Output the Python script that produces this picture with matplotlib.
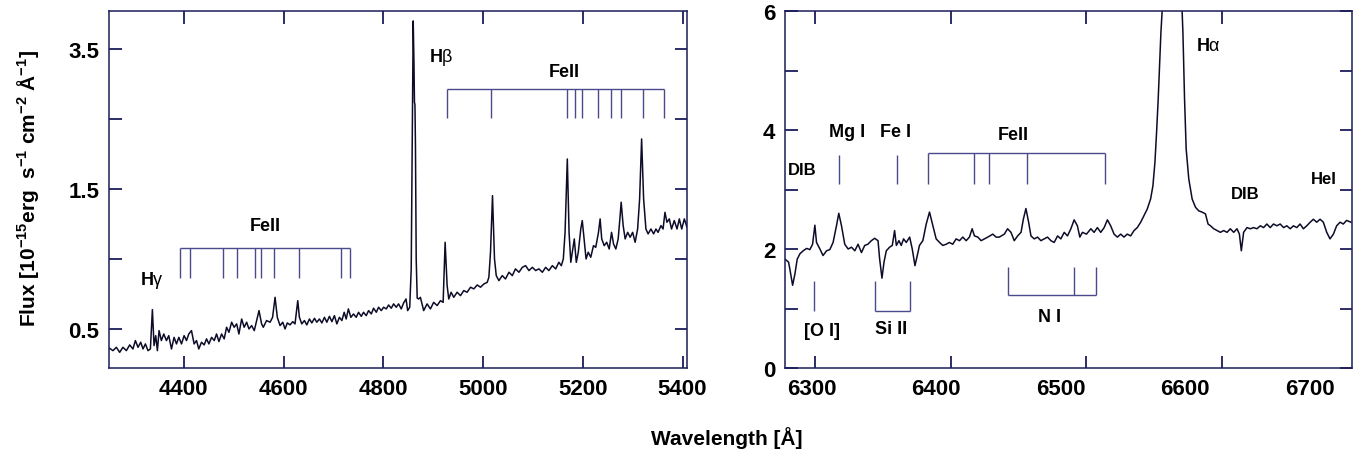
import matplotlib
matplotlib.use("Agg")
import matplotlib.pyplot as plt
import numpy as np

plt.rcParams['font.family'] = ['Liberation Sans', 'DejaVu Sans']
plt.rcParams['mathtext.fontset'] = 'custom'
plt.rcParams['mathtext.rm'] = 'Liberation Sans'
plt.rcParams['mathtext.bf'] = 'Liberation Sans:bold'
plt.rcParams['mathtext.it'] = 'Liberation Sans'

# ---------------- data: blue spectrum (left panel) ----------------
blue_wave = [4251, 4258, 4264.7, 4271.4, 4278, 4284.8, 4291.5, 4298, 4302.9, 4308.2, 4313.6, 4318.2,
             4323, 4328.2, 4333, 4337, 4340.3, 4343.7, 4347, 4350.4, 4355, 4359.8, 4365.2, 4369.8,
             4375.3, 4380.5, 4385.3, 4390, 4395.4, 4400.6, 4405.4, 4410, 4415.4, 4420.7, 4425.5,
             4430, 4435.5, 4440.8, 4445.6, 4450.3, 4455.7, 4461, 4465.7, 4470.4, 4475.8, 4481,
             4485.8, 4490.5, 4495.9, 4501, 4506, 4510.5, 4516, 4521, 4526, 4530.7, 4536, 4541.3,
             4546, 4550.8, 4556, 4559.4, 4566, 4573, 4578, 4583, 4587.5, 4593, 4598.4, 4603,
             4607.6, 4613, 4618.5, 4623, 4628.5, 4631.8, 4636.6, 4641.8, 4646.6, 4651.9, 4656.7,
             4662, 4666.7, 4672, 4676.8, 4682, 4686.8, 4692, 4696.9, 4702, 4706.9, 4712, 4717,
             4721.6, 4725.6, 4730, 4735, 4740.3, 4745.7, 4750.4, 4755.8, 4760.4, 4765.8, 4770.5,
             4775.9, 4780.5, 4786, 4790.5, 4796, 4800.6, 4806, 4810.6, 4816, 4820.7, 4826,
             4830.7, 4836, 4840.8, 4845.6, 4848.9, 4853, 4856, 4858, 4860, 4861.5, 4862.5,
             4863.5, 4864.5, 4866, 4868, 4871, 4874.4, 4881, 4887.8, 4894.5, 4901, 4908, 4914.6,
             4920, 4924, 4928, 4931.3, 4936, 4941.3, 4948, 4954.8, 4961.4, 4968, 4975, 4981.5,
             4988.3, 4995, 5001.6, 5008.4, 5011.7, 5015, 5019, 5023, 5026.5, 5031.8, 5038.6,
             5045, 5052, 5058.7, 5065, 5072, 5078.8, 5085.4, 5092, 5099, 5105.5, 5112, 5119,
             5125.6, 5132, 5139, 5145.7, 5152, 5157, 5161, 5164.5, 5169, 5172.5, 5176, 5179,
             5183, 5187, 5191, 5196, 5199, 5202.6, 5206.6, 5211, 5216, 5221.5, 5226, 5231.5,
             5234.8, 5238, 5243, 5248, 5253, 5257.7, 5261.7, 5266.3, 5271, 5274.4, 5277, 5281,
             5285, 5290, 5295, 5300, 5305, 5310, 5314, 5318, 5322, 5326.6, 5331, 5336.7, 5342,
             5346.7, 5351, 5356.8, 5361, 5364.8, 5368.8, 5373.5, 5378, 5383.5, 5389, 5393.6,
             5398.4, 5403.6, 5409]
blue_flux = [0.362, 0.345, 0.369, 0.333, 0.369, 0.345, 0.386, 0.357, 0.417, 0.369, 0.405, 0.357,
             0.393, 0.345, 0.357, 0.638, 0.381, 0.452, 0.345, 0.488, 0.417, 0.464, 0.417, 0.452,
             0.357, 0.440, 0.393, 0.440, 0.393, 0.452, 0.417, 0.464, 0.488, 0.393, 0.417,
             0.357, 0.405, 0.386, 0.429, 0.393, 0.440, 0.417, 0.464, 0.410, 0.464, 0.429,
             0.512, 0.476, 0.548, 0.512, 0.536, 0.464, 0.571, 0.512, 0.548, 0.500, 0.524, 0.488,
             0.560, 0.631, 0.536, 0.512, 0.560, 0.548, 0.583, 0.726, 0.583, 0.524, 0.548, 0.500,
             0.543, 0.529, 0.552, 0.536, 0.702, 0.583, 0.536, 0.560, 0.529, 0.571, 0.543,
             0.576, 0.548, 0.571, 0.543, 0.583, 0.548, 0.590, 0.552, 0.595, 0.536, 0.583, 0.560,
             0.619, 0.571, 0.643, 0.583, 0.607, 0.583, 0.619, 0.590, 0.619, 0.595, 0.631,
             0.607, 0.648, 0.619, 0.655, 0.631, 0.655, 0.643, 0.671, 0.648, 0.679, 0.655,
             0.679, 0.643, 0.686, 0.714, 0.631, 0.655, 0.929, 1.80, 2.70, 2.40, 2.12,
             2.10, 1.81, 1.00, 0.72, 0.714, 0.726, 0.631, 0.679, 0.643, 0.690, 0.667, 0.702,
             0.690, 1.119, 0.810, 0.714, 0.762, 0.726, 0.762, 0.738, 0.774, 0.762, 0.798, 0.786,
             0.814, 0.798, 0.821, 0.833, 0.869, 1.048, 1.452, 1.000, 0.881, 0.845, 0.881,
             0.857, 0.905, 0.881, 0.929, 0.905, 0.940, 0.952, 0.917, 0.940, 0.917, 0.929, 0.905,
             0.940, 0.917, 0.952, 0.929, 0.976, 0.952, 1.000, 1.190, 1.714, 1.190, 0.976, 1.048,
             1.143, 0.976, 1.048, 1.214, 1.274, 1.143, 1.000, 1.048, 1.012, 1.095, 1.083, 1.190,
             1.286, 1.143, 1.095, 1.119, 1.071, 1.190, 1.107, 1.071, 1.143, 1.286, 1.405, 1.238,
             1.143, 1.190, 1.155, 1.190, 1.119, 1.214, 1.429, 1.857, 1.429, 1.214, 1.179, 1.214, 1.179,
             1.214, 1.190, 1.238, 1.214, 1.333, 1.262, 1.286, 1.214, 1.274, 1.214, 1.286,
             1.214, 1.286, 1.226]

# ---------------- data: red spectrum (right panel) ----------------
red_wave = [6278, 6280.6, 6281.6, 6283.6, 6285.3, 6287, 6289, 6291.4, 6293.9, 6296.3, 6298.3, 6300,
            6301.2, 6303.7, 6306, 6308.6, 6311, 6313.4, 6315.9, 6317.6, 6319.6, 6322, 6324.5, 6327,
            6329.4, 6331.8, 6334.3, 6336.7, 6339, 6341.6, 6344, 6346.5, 6347.7, 6349.4, 6350.9,
            6352.6, 6355, 6357, 6358.7, 6360, 6361.9, 6363.6, 6365.3, 6367.3, 6369.8, 6371.7,
            6373.7, 6375.4, 6377, 6379.5, 6382, 6384.4, 6386.9, 6389.3, 6391.8, 6394.2, 6396.7,
            6399, 6401.5, 6404, 6406.5, 6408.9, 6411.4, 6413.8, 6415.8, 6417.5, 6420, 6422.4,
            6424.8, 6427.3, 6431, 6433.4, 6435.8, 6439.5, 6441.9, 6444.4, 6446.8, 6449.3, 6451.8,
            6453.5, 6455.4, 6457.4, 6459.1, 6461.5, 6464, 6466.4, 6468.9, 6471.3, 6473.8, 6476.2,
            6478.7, 6481.1, 6483.6, 6486, 6488.5, 6490.9, 6493.3, 6495.1, 6497, 6500, 6503.2,
            6505.6, 6508, 6510.5, 6513, 6515.4, 6517.8, 6520.3, 6522.7, 6525.2, 6527.6, 6530,
            6532.5, 6535, 6537.4, 6539.9, 6542.3, 6544.7, 6547.2, 6548.9, 6550.4, 6551.6, 6552.8,
            6553.8, 6554.8, 6555.7, 6557.5, 6560, 6563, 6566, 6569, 6570.4, 6571, 6572.2, 6573.4,
            6575.3, 6577.8, 6580.3, 6582.7, 6585.1, 6587.6, 6589.5, 6591.3, 6593.7, 6596.1,
            6598.6, 6601, 6603.5, 6605.9, 6608.4, 6610.8, 6612.6, 6614, 6615.7, 6618.2, 6620.6,
            6623, 6625.5, 6628, 6630.4, 6632.8, 6635.3, 6637.7, 6640.2, 6642.6, 6645.1, 6647.5,
            6650, 6652.4, 6654.8, 6657.3, 6659.7, 6662.2, 6664.7, 6667.1, 6669.5, 6672, 6674.4,
            6676.9, 6679.3, 6681.8, 6684.2, 6686.7, 6689.1, 6691.5, 6694.8]
red_flux = [1.83, 1.78, 1.66, 1.39, 1.58, 1.83, 1.92, 1.97, 2.01, 1.99, 2.08, 2.40,
            2.11, 2.00, 1.89, 1.97, 1.99, 2.11, 2.39, 2.60, 2.39, 2.08, 2.00, 2.03,
            1.97, 2.08, 1.94, 2.06, 2.08, 2.14, 2.18, 2.14, 1.83, 1.51, 1.78,
            1.97, 2.03, 2.06, 2.31, 2.06, 2.14, 2.06, 2.17, 2.11, 2.20, 2.00,
            1.72, 1.89, 2.06, 2.14, 2.42, 2.62, 2.39, 2.17, 2.11, 2.06, 2.08,
            2.11, 2.08, 2.17, 2.14, 2.20, 2.14, 2.20, 2.34, 2.22, 2.20, 2.14,
            2.17, 2.20, 2.25, 2.20, 2.20, 2.25, 2.34, 2.28, 2.14, 2.22, 2.28,
            2.50, 2.68, 2.45, 2.22, 2.17, 2.20, 2.14, 2.17, 2.20, 2.14, 2.11,
            2.22, 2.17, 2.28, 2.22, 2.34, 2.49, 2.39, 2.20, 2.28, 2.25, 2.34,
            2.28, 2.36, 2.28, 2.36, 2.49, 2.39, 2.25, 2.20, 2.25, 2.20, 2.25,
            2.22, 2.31, 2.36, 2.45, 2.56, 2.67, 2.84, 3.06, 3.46, 3.96, 4.52,
            5.08, 5.64, 6.00, 7.2, 8.6, 9.2, 8.6, 7.0, 6.00, 5.64, 4.52, 3.68,
            3.18, 2.84, 2.70, 2.64, 2.62, 2.59, 2.42, 2.39, 2.34, 2.31,
            2.28, 2.31, 2.28, 2.34, 2.28, 2.34, 2.25, 1.97, 2.28, 2.36, 2.34,
            2.36, 2.34, 2.39, 2.36, 2.42, 2.36, 2.42, 2.39, 2.42, 2.36, 2.39,
            2.34, 2.39, 2.36, 2.42, 2.34, 2.39, 2.45, 2.50, 2.45, 2.50, 2.45,
            2.28, 2.17, 2.25, 2.39, 2.45, 2.42, 2.48, 2.45]

# ---------------- line identifications ----------------
feii_blue1 = [4393, 4412, 4479, 4506, 4543, 4554, 4580, 4631, 4716, 4734]
feii_blue2 = [4927, 5016, 5168, 5184, 5198, 5231, 5256, 5276, 5320, 5363]
mgi_red = [6317.4]
fei_red = [6360.4]
feii_red = [6383.2, 6417.5, 6428, 6456, 6513.7]
oi_red = [6299.5]
siii_red = [6344.6, 6369.8]
ni_red = [6442.4, 6490.7, 6507]

# axis ticks / labels
blue_xticks = [4400, 4600, 4800, 5000, 5200, 5400]
blue_yticks = [0.5, 1.0, 1.5, 2.0, 2.5]
blue_yticklabels = ['0.5', '', '1.5', '', '3.5']
red_xticks = [6300, 6400, 6500, 6600]
red_xlabels = [6300, 6400, 6500, 6600, 6700]
red_yticks = [0, 2, 4, 6]

SPINE = '#1c1c5a'
LINE = '#0c0c28'
MARK = '#4a4a8c'
FS = 16

fig = plt.figure(figsize=(13.54, 4.52), dpi=100)
axL = fig.add_axes([109/1354, 83/452, 578/1354, 357/452])
axR = fig.add_axes([785/1354, 83/452, 567/1354, 357/452])

def style(ax):
    for s in ax.spines.values():
        s.set_color(SPINE)
        s.set_linewidth(1.1)
    ax.tick_params(which='both', direction='in', top=True, right=True, length=9,
                   width=1.3, color=SPINE, labelsize=FS, pad=7)
    for lab in ax.get_xticklabels() + ax.get_yticklabels():
        lab.set_fontweight('bold')

# ---- left panel ----
axL.plot(blue_wave, blue_flux, color=LINE, lw=1.1)
axL.set_xlim(4250, 5409)
axL.set_ylim(0.221, 2.771)
axL.set_xticks(blue_xticks)
axL.set_xticklabels([str(v) for v in blue_xticks])
axL.set_yticks(blue_yticks)
axL.set_yticklabels(blue_yticklabels)
style(axL)

axL.hlines(1.079, feii_blue1[0], feii_blue1[-1], color=MARK, lw=1.0)
axL.vlines(feii_blue1, 0.864, 1.079, color=MARK, lw=1.0)
axL.hlines(2.214, feii_blue2[0], feii_blue2[-1], color=MARK, lw=1.0)
axL.vlines(feii_blue2, 2.007, 2.214, color=MARK, lw=1.0)

tk = dict(fontsize=13, fontweight='bold', color='black')
axL.text(4563, 1.236, 'FeII', ha='center', va='center', **tk)
axL.text(5162, 2.336, 'FeII', ha='center', va='center', **tk)
axL.text(4312, 0.85, r'H$\mathrm{\gamma}$', ha='left', va='center', **tk)
axL.text(4892, 2.443, r'H$\mathrm{\beta}$', ha='left', va='center', **tk)

# ---- right panel ----
axR.plot(red_wave, red_flux, color=LINE, lw=1.1)
axR.set_xlim(6278, 6695.5)
axR.set_ylim(0, 6)
axR.set_xticks(red_xticks)
axR.set_xticklabels([])
axR.set_yticks(red_yticks)
axR.set_yticklabels([str(v) for v in red_yticks])
axR.set_yticks([1, 3, 5], minor=True)
style(axR)
axR.tick_params(which='minor', length=9)

# tick labels of the right panel sit on their own (slightly compressed) scale
def to_lab(w):
    return 6300 + (3 + 1.362 * (np.asarray(w) - 6300)) / 1.2475
def from_lab(l):
    return 6300 + (1.2475 * (np.asarray(l) - 6300) - 3) / 1.362
sec = axR.secondary_xaxis('bottom', functions=(to_lab, from_lab))
sec.set_xticks(red_xlabels)
sec.set_xticklabels([str(v) for v in red_xlabels])
sec.tick_params(length=0, labelsize=FS, pad=7)
sec.spines['bottom'].set_visible(False)
for lab in sec.get_xticklabels():
    lab.set_fontweight('bold')

axR.vlines(mgi_red, 3.09, 3.58, color=MARK, lw=1.0)
axR.vlines(fei_red, 3.09, 3.58, color=MARK, lw=1.0)
axR.hlines(3.61, feii_red[0], feii_red[-1], color=MARK, lw=1.0)
axR.vlines(feii_red, 3.09, 3.61, color=MARK, lw=1.0)
axR.vlines(oi_red, 0.96, 1.47, color=MARK, lw=1.0)
axR.vlines(siii_red, 0.96, 1.47, color=MARK, lw=1.0)
axR.hlines(0.96, siii_red[0], siii_red[-1], color=MARK, lw=1.0)
axR.vlines(ni_red, 1.22, 1.70, color=MARK, lw=1.0)
axR.hlines(1.22, ni_red[0], ni_red[-1], color=MARK, lw=1.0)

axR.text(6291, 3.33, 'DIB', ha='center', va='center', fontsize=12, fontweight='bold')
axR.text(6324, 3.97, 'Mg I', ha='center', va='center', **tk)
axR.text(6359, 3.97, 'Fe I', ha='center', va='center', **tk)
axR.text(6446, 3.93, 'FeII', ha='center', va='center', **tk)
axR.text(6305, 0.63, '[O I]', ha='center', va='center', **tk)
axR.text(6356, 0.66, 'Si II', ha='center', va='center', **tk)
axR.text(6472.5, 0.86, 'N I', ha='center', va='center', **tk)
axR.text(6580.5, 5.42, r'H$\mathrm{\alpha}$', ha='left', va='center', **tk)
axR.text(6617, 2.94, 'DIB', ha='center', va='center', fontsize=12, fontweight='bold')
axR.text(6675, 3.19, 'HeI', ha='center', va='center', fontsize=12, fontweight='bold')

fig.text(28/1354, (452-188)/452,
         r'Flux [10$^{\mathbf{-15}}$erg  s$^{\mathbf{-1}}$ cm$^{\mathbf{-2}}$ $\mathbf{\AA}^{\mathbf{-1}}$]',
         rotation=90, ha='center', va='center', fontsize=15, fontweight='bold')
fig.text(727/1354, (452-438)/452, 'Wavelength [Å]', ha='center', va='center',
         fontsize=15, fontweight='bold')

fig.savefig('out.png', dpi=100)
